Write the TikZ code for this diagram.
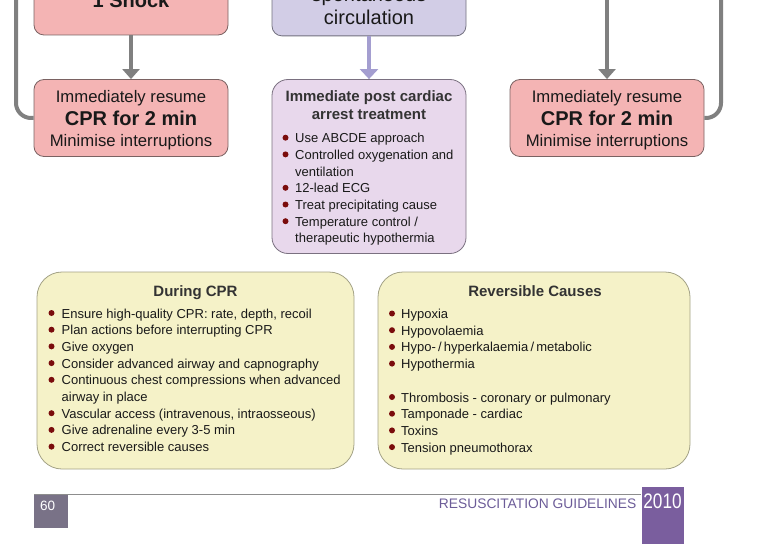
\documentclass[tikz,border=0pt]{standalone}
\usepackage{fontspec}
\setmainfont{Liberation Sans}
\usepackage{xcolor}
\usetikzlibrary{arrows.meta}

\definecolor{pinkfill}{HTML}{F4B4B4}
\definecolor{pinkdraw}{HTML}{7A6262}
\definecolor{lavfill}{HTML}{D2CDE6}
\definecolor{lavdraw}{HTML}{72707E}
\definecolor{postfill}{HTML}{E8D8EC}
\definecolor{postdraw}{HTML}{7A7080}
\definecolor{yelfill}{HTML}{F5F2C8}
\definecolor{yeldraw}{HTML}{A3A286}
\definecolor{bulred}{HTML}{7A0C0C}
\definecolor{arrowgray}{HTML}{808080}
\definecolor{arrowlav}{HTML}{A49ED0}
\definecolor{footgray}{HTML}{797287}
\definecolor{footpurple}{HTML}{7A5E9E}
\definecolor{foottext}{HTML}{6C5C98}
\definecolor{titlegray}{HTML}{333333}

\newcommand{\bigtxt}{\fontsize{16.7}{22}\selectfont}
\newcommand{\cprtxt}{\bfseries\fontsize{20}{23}\selectfont}
\newcommand{\listtxt}{\fontsize{13}{16.7}\selectfont}
\newcommand{\titletxt}{\bfseries\fontsize{15}{17.6}\selectfont}

\begin{document}
\begin{tikzpicture}[x=1pt, y=-1pt,
    pinkbox/.style={rectangle, rounded corners=10pt, draw=pinkdraw, line width=0.8pt, fill=pinkfill, minimum width=194pt, align=center, inner sep=0pt, text=black!90},
    lavbox/.style={rectangle, rounded corners=10pt, draw=lavdraw, line width=0.8pt, fill=lavfill, minimum width=194pt, align=center, inner sep=0pt, text=black!90},
    postbox/.style={rectangle, rounded corners=16pt, draw=postdraw, line width=0.8pt, fill=postfill, minimum width=194pt, inner sep=0pt},
    yelbox/.style={rectangle, rounded corners=25pt, draw=yeldraw, line width=0.8pt, fill=yelfill, minimum height=197pt, inner sep=0pt},
    titlenode/.style={font=\titletxt, text=titlegray, align=center, inner sep=0pt},
    listnode/.style={font=\listtxt, text=black!90, align=left, inner sep=0pt},
    grayarrow/.style={-{Triangle[width=17pt,length=10pt]}, line width=4pt, arrowgray},
    lavarrow/.style={-{Triangle[width=18pt,length=10pt]}, line width=3.2pt, arrowlav},
    loopline/.style={line width=4pt, arrowgray, rounded corners=15pt}
]
    \useasboundingbox (0,0) rectangle (775,556);
    \clip (0,0) rectangle (775,556);

    % Top row: boxes cut at the page edge
    \node[pinkbox, minimum height=70pt, font=\cprtxt] (shock) at (131,0) {1 Shock};
    \node[lavbox, minimum height=59pt, font=\fontsize{20}{23}\selectfont] (rosc) at (369,6.4) {spontaneous\\circulation};
    \coordinate (fromNonShock) at (607,-5);

    % Second row
    \node[pinkbox, minimum height=77pt, font=\bigtxt] (resumeL) at (131,118) {\rule{0pt}{16pt}Immediately resume\\[1pt]{\cprtxt CPR for 2 min}\\[-1pt]Minimise interruptions};
    \node[pinkbox, minimum height=77pt, font=\bigtxt] (resumeR) at (607,118) {\rule{0pt}{16pt}Immediately resume\\[1pt]{\cprtxt CPR for 2 min}\\[-1pt]Minimise interruptions};

    % base anchor = baseline of the last line
    \node[postbox, minimum height=174pt] (post) at (369,166.5) {};
    \node[titlenode, anchor=base] (posttitle) at (369,119.3) {Immediate post cardiac\\arrest treatment};
    \node[listnode, anchor=base west] (postlist) at (295,242.9) {Use ABCDE approach\\Controlled oxygenation and\\ventilation\\12-lead ECG\\Treat precipitating cause\\Temperature control /\\therapeutic hypothermia};
    \foreach \y in {142.7,159.4,192.8,209.5,226.2}
        \fill[bulred] (285.5,\y-5) circle (3pt);

    % Arrows and loops
    \draw[grayarrow] (shock) -- (resumeL);
    \draw[grayarrow] (fromNonShock) -- (resumeR);
    \draw[lavarrow] (rosc) -- (post);
    \coordinate (loopL) at (16,-5);
    \coordinate (loopR) at (721,-5);
    \draw[loopline] (resumeL.west) -| (loopL);
    \draw[loopline] (resumeR.east) -| (loopR);

    % Bottom row
    \node[yelbox, minimum width=317pt] (during) at (195.5,370.5) {};
    \node[titlenode, anchor=base] (duringtitle) at (195.5,296) {During CPR};
    \node[listnode, anchor=base west] (duringlist) at (61.5,451.6) {Ensure high-quality CPR: rate, depth, recoil\\Plan actions before interrupting CPR\\Give oxygen\\Consider advanced airway and capnography\\Continuous chest compressions when advanced\\airway in place\\Vascular access (intravenous, intraosseous)\\Give adrenaline every 3-5 min\\Correct reversible causes};
    \foreach \y in {318,334.7,351.4,368.1,384.8,418.2,434.9,451.6}
        \fill[bulred] (51.5,\y-5) circle (3pt);

    \node[yelbox, minimum width=312pt] (causes) at (534,370.5) {};
    \node[titlenode, anchor=base] (causestitle) at (535,296) {Reversible Causes};
    \node[listnode, anchor=base west] (causeslist) at (401,452.1) {Hypoxia\\Hypovolaemia\\Hypo-\,/\,hyperkalaemia\,/\,metabolic\\Hypothermia\\[16.7pt]Thrombosis - coronary or pulmonary\\Tamponade - cardiac\\Toxins\\Tension pneumothorax};
    \foreach \y in {318.5,335.2,351.9,368.6,402,418.7,435.4,452.1}
        \fill[bulred] (392,\y-5) circle (3pt);

    % Footer
    \draw[arrowgray!90, line width=1pt] (34,494) -- (641,494);
    \node[fill=footgray, minimum width=34pt, minimum height=33pt, inner sep=0pt] (pagebox) at (51,511.5) {};
    \node[text=white, font=\fontsize{13.5}{14}\selectfont, anchor=base west, inner sep=0pt] (pagenum) at (40,510) {60};
    \node[text=foottext, font=\fontsize{13.8}{14}\selectfont, anchor=base east, inner sep=0pt] (guide) at (636.5,508.3) {RESUSCITATION GUIDELINES};
    \node[fill=footpurple, minimum width=42pt, minimum height=57pt, inner sep=0pt] (yearbox) at (663,515.5) {};
    \node[text=white, font=\fontsize{21}{21}\selectfont, xscale=0.82, anchor=base, inner sep=0pt] (year) at (662.5,508.3) {2010};

\end{tikzpicture}
\end{document}
